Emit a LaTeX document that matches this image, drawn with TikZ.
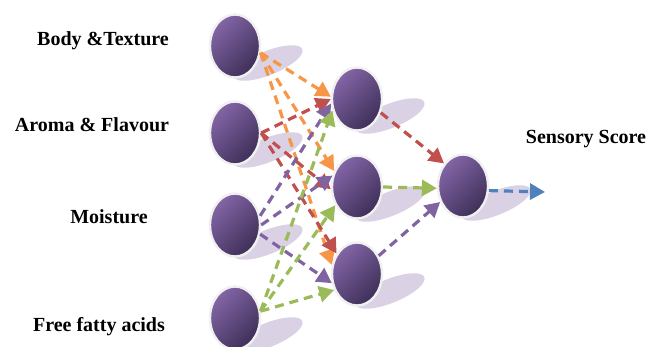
\documentclass[tikz,border=0pt]{standalone}
\usepackage{fontspec}
\setmainfont{Liberation Serif}
\usetikzlibrary{shapes.geometric,arrows.meta}
\definecolor{orlink}{HTML}{F79646}
\definecolor{rdlink}{HTML}{C0504D}
\definecolor{pplink}{HTML}{8064A2}
\definecolor{grlink}{HTML}{9BBB59}
\definecolor{bllink}{HTML}{4F81BD}
\definecolor{cellhi}{HTML}{8365A6}
\definecolor{celllo}{HTML}{3E2F58}
\definecolor{glowc}{HTML}{DAD1E5}
\tikzset{neuron/.style={ellipse, draw=gray!12, line width=1.2pt, minimum width=25pt, minimum height=31.5pt,
    top color=cellhi, bottom color=celllo, shading angle=45},
  glow/.style={ellipse, fill=glowc, minimum width=37pt, minimum height=12pt, inner sep=0pt, rotate=22},
  link/.style={draw=#1, dash pattern=on 4.5pt off 3pt, line width=1.6pt, -{Triangle[length=7.5pt,width=8pt]}},
  lbl/.style={font=\bfseries\fontsize{10}{12}\selectfont}}

\begin{document}
\begin{tikzpicture}[x=0.5pt,y=-0.5pt]
    \useasboundingbox (0,0) rectangle (658,347);
    % reflections under the cells
    \foreach \cx/\cy in {235/46, 235/133, 235/225, 235/318, 357/99, 357/187, 357/274, 463/186}
        \node[glow] at (\cx+33,\cy+17) {};

    \node[neuron] (b) at (235,46) {};
    \node[neuron] (a) at (235,133) {};
    \node[neuron] (m) at (235,225) {};
    \node[neuron] (f) at (235,318) {};
    \node[neuron] (h1) at (357,99) {};
    \node[neuron] (h2) at (357,187) {};
    \node[neuron] (h3) at (357,274) {};
    \node[neuron] (o) at (463,186) {};
    \coordinate (score) at (545,192);

    \node[lbl] (lb) at (103,41) {Body \&Texture};
    \node[lbl] (la) at (92,125) {Aroma \& Flavour};
    \node[lbl] (lm) at (109,217) {Moisture};
    \node[lbl] (lf) at (99,327) {Free fatty acids};
    \node[lbl] (ls) at (586,139) {Sensory Score};

    \draw[link=orlink] (b.-15) -- (h1.175);
    \draw[link=orlink] (b.-15) -- (h2.145);
    \draw[link=orlink] (b.-15) -- (h3.160);
    \draw[link=rdlink] (a.east) -- (h1.180);
    \draw[link=rdlink] (a.east) -- (h2.185);
    \draw[link=rdlink] (a.east) -- (h3.135);
    \draw[link=pplink] (m.20) -- (h1.190);
    \draw[link=pplink] (m.0) -- (h2.155);
    \draw[link=pplink] (m.-20) -- (h3.200);
    \draw[link=grlink] (f.15) -- (h1.205);
    \draw[link=grlink] (f.15) -- (h2.220);
    \draw[link=grlink] (f.15) -- (h3.215);

    \draw[link=rdlink] (h1.-30) -- (o.130);
    \draw[link=grlink] (h2.east) -- (o.185);
    \draw[link=pplink] (h3.40) -- (o.215);
    \draw[link=bllink] (o.-10) -- (score);
\end{tikzpicture}
\end{document}
